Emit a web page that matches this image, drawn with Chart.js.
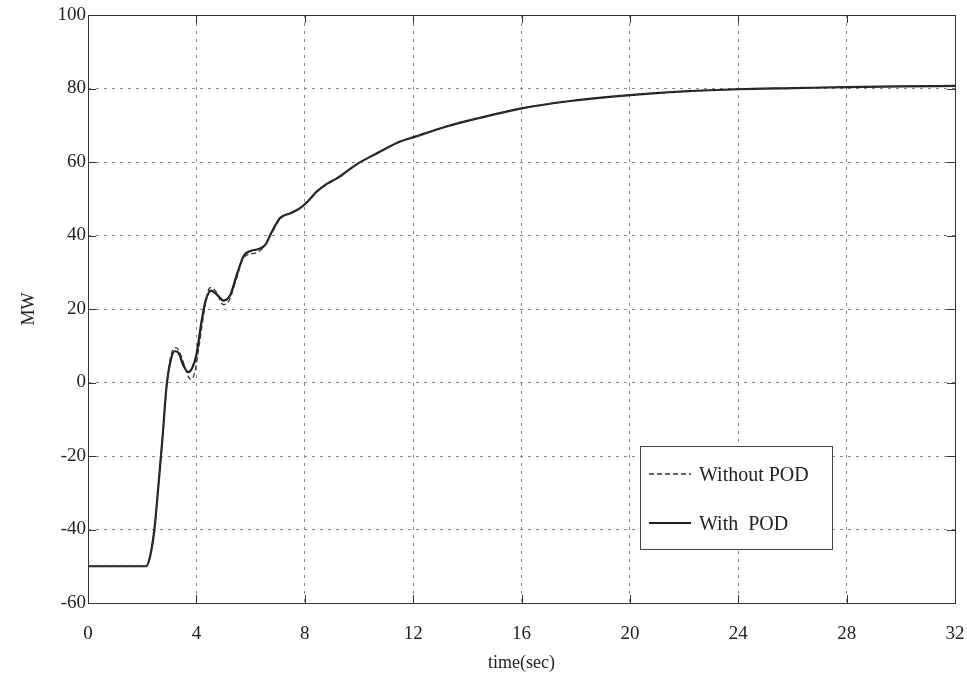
<!DOCTYPE html>
<html>
<head>
<meta charset="utf-8">
<script src="https://cdn.jsdelivr.net/npm/chart.js@4.4.1/dist/chart.umd.min.js"></script>
<style>
  html, body { margin: 0; padding: 0; background: #fff; }
  #wrap { width: 967px; height: 674px; }
</style>
</head>
<body>
<div id="wrap"><canvas id="power"></canvas></div>
<script>
// time (s) and power (MW), with power oscillation damping
const withPodTime = [0, 2.15, 2.3, 2.45, 2.6, 2.75, 2.9, 3.05, 3.2, 3.35, 3.5, 3.7, 3.85, 4.0, 4.2, 4.35, 4.55, 4.75, 5.0, 5.25, 5.5, 5.75, 6.0, 6.3, 6.55, 6.75, 7.1, 7.45, 7.8, 8.1, 8.45, 8.8, 9.2, 9.9, 10.7, 11.5, 12, 13.2, 14.4, 16, 17.8, 20, 22, 24, 26, 28, 30, 32];
const withPodMW = [-50, -50, -47, -40, -28, -15, -1, 6, 8.5, 8, 5, 2.8, 4, 7.5, 17, 22.5, 25, 24, 22.3, 23.8, 29.5, 34.5, 35.8, 36.3, 37.5, 40.5, 44.8, 46, 47.3, 49.2, 52, 54, 55.6, 59.3, 62.5, 65.5, 66.7, 69.6, 71.9, 74.6, 76.6, 78.2, 79.2, 79.8, 80.1, 80.4, 80.6, 80.7];

// same run without the damping controller
const noPodTime = [0, 2.15, 2.3, 2.45, 2.6, 2.75, 2.9, 3.05, 3.25, 3.45, 3.65, 3.8, 3.95, 4.1, 4.35, 4.5, 4.7, 5.0, 5.2, 5.45, 5.75, 6.2, 6.45, 6.75, 7.1, 7.45, 7.8, 8.1, 8.45, 8.8, 9.2, 9.9, 10.7, 11.5, 12, 13.2, 14.4, 16, 17.8, 20, 22, 24, 26, 28, 30, 32];
const noPodMW = [-50, -50, -47, -40, -28, -15, -1.5, 7, 9.5, 7, 2.5, 0.8, 3, 10, 22, 25.8, 25, 21.2, 22.2, 27.5, 34, 35.3, 36.5, 40.2, 44.6, 46, 47.3, 49.2, 52, 54, 55.6, 59.3, 62.5, 65.5, 66.7, 69.6, 71.9, 74.6, 76.6, 78.2, 79.2, 79.8, 80.1, 80.4, 80.6, 80.7];

const xTicks = [0, 4, 8, 12, 16, 20, 24, 28, 32];
const yTicks = [-60, -40, -20, 0, 20, 40, 60, 80, 100];

function toPoints(xs, ys) {
  return xs.map((x, i) => ({ x: x, y: ys[i] }));
}

Chart.defaults.font.family = "'Liberation Serif', serif";
Chart.defaults.color = "#222";

// frame, inward tick marks and the boxed legend inside the plot
const framePlugin = {
  id: "frame",
  afterDraw(chart) {
    const ctx = chart.ctx;
    const a = chart.chartArea;
    const xs = chart.scales.x, ys = chart.scales.y;
    ctx.save();
    ctx.strokeStyle = "#333";
    ctx.lineWidth = 1;
    ctx.setLineDash([]);
    ctx.strokeRect(a.left + 0.5, a.top + 0.5, a.right - a.left, a.bottom - a.top);
    ctx.beginPath();
    xTicks.forEach(v => {
      const px = Math.round(xs.getPixelForValue(v)) + 0.5;
      ctx.moveTo(px, a.bottom); ctx.lineTo(px, a.bottom - 8);
      ctx.moveTo(px, a.top); ctx.lineTo(px, a.top + 8);
    });
    yTicks.forEach(v => {
      const py = Math.round(ys.getPixelForValue(v)) + 0.5;
      ctx.moveTo(a.left, py); ctx.lineTo(a.left + 8, py);
      ctx.moveTo(a.right, py); ctx.lineTo(a.right - 8, py);
    });
    ctx.stroke();

    // legend
    const bx = 640, by = 446, bw = 192, bh = 103;
    ctx.fillStyle = "#fff";
    ctx.fillRect(bx, by, bw, bh);
    ctx.strokeStyle = "#444";
    ctx.strokeRect(bx + 0.5, by + 0.5, bw, bh);
    const rows = [474, 523];
    ctx.font = "20px 'Liberation Serif', serif";
    ctx.textBaseline = "middle";
    chart.data.datasets.forEach((ds, i) => {
      ctx.strokeStyle = ds.borderColor;
      ctx.lineWidth = ds.borderWidth;
      ctx.setLineDash(ds.borderDash || []);
      ctx.beginPath();
      ctx.moveTo(649, rows[i]);
      ctx.lineTo(691, rows[i]);
      ctx.stroke();
      ctx.fillStyle = "#222";
      ctx.fillText(ds.label, 699, rows[i] + 2);
    });
    ctx.restore();
  }
};

new Chart("power", {
  type: "line",
  data: {
    datasets: [{
      label: "Without POD",
      data: toPoints(noPodTime, noPodMW),
      borderColor: "#333",
      borderWidth: 1.3,
      borderDash: [5, 3],
      pointRadius: 0,
      cubicInterpolationMode: "monotone"
    }, {
      label: "With  POD",
      data: toPoints(withPodTime, withPodMW),
      borderColor: "#1e1e1e",
      borderWidth: 2.2,
      pointRadius: 0,
      cubicInterpolationMode: "monotone"
    }]
  },
  options: {
    responsive: true,
    maintainAspectRatio: false,
    animation: false,
    layout: { padding: { top: 15, right: 12, left: 0, bottom: 0 } },
    plugins: {
      legend: { display: false },
      tooltip: { enabled: false }
    },
    scales: {
      x: {
        type: "linear",
        min: 0,
        max: 32,
        afterFit(scale) {
          scale.height = 71;
          scale.paddingLeft = 0;
          scale.paddingRight = 0;
        },
        afterBuildTicks(scale) { scale.ticks = xTicks.map(v => ({ value: v })); },
        grid: { color: "#888", lineWidth: 1, drawTicks: false },
        border: { display: false, dash: [3, 5] },
        ticks: { font: { size: 19 }, padding: 20, maxRotation: 0 },
        title: { display: true, text: "time(sec)", font: { size: 18 }, padding: { top: 0, bottom: 0 } }
      },
      y: {
        min: -60,
        max: 100,
        afterFit(scale) {
          scale.width = 88;
          scale.paddingTop = 0;
          scale.paddingBottom = 0;
        },
        afterBuildTicks(scale) { scale.ticks = yTicks.map(v => ({ value: v })); },
        grid: { color: "#888", lineWidth: 1, drawTicks: false },
        border: { display: false, dash: [3, 5] },
        ticks: { font: { size: 19 }, padding: 2 },
        title: { display: true, text: "MW", font: { size: 18 }, padding: { top: 18, bottom: 0 } }
      }
    }
  },
  plugins: [framePlugin]
});
</script>
</body>
</html>
